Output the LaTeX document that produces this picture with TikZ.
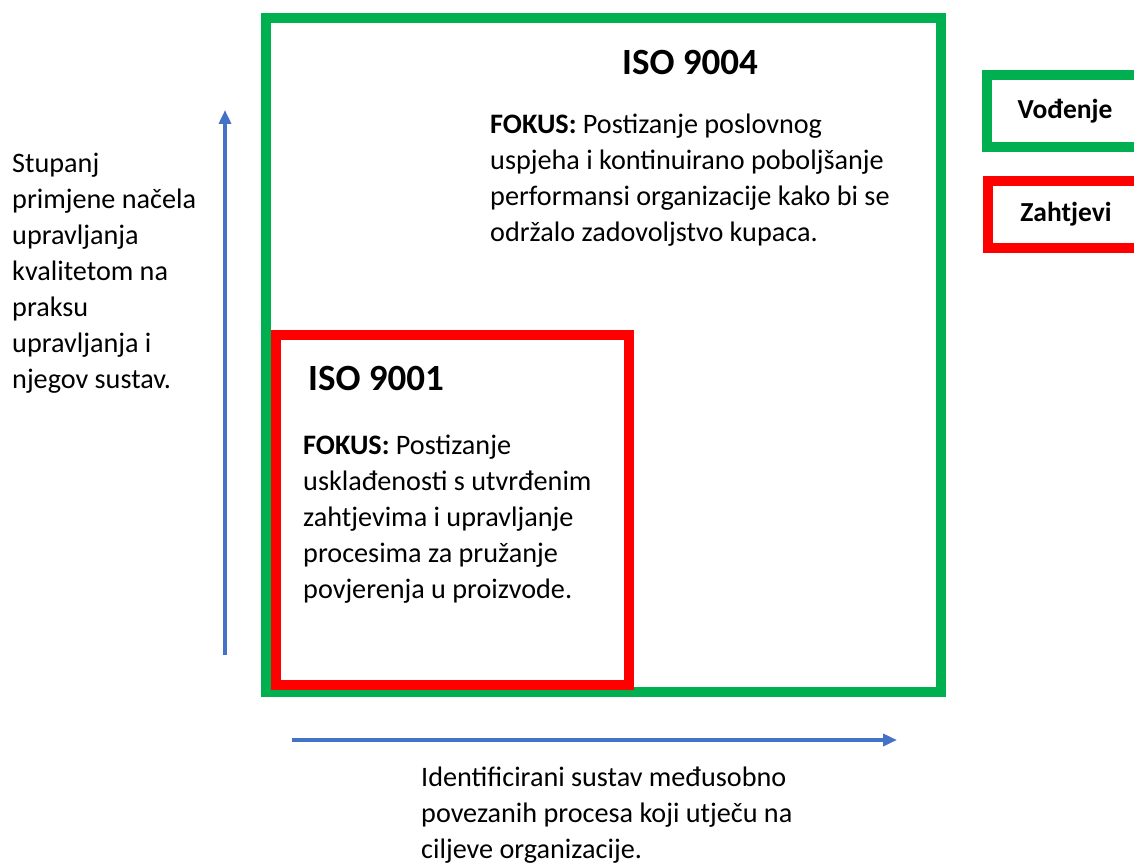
\documentclass[tikz,border=0pt]{standalone}
\usepackage{fontspec}
\setmainfont{Carlito}
\usetikzlibrary{arrows.meta}
\definecolor{isogreen}{RGB}{0,176,80}
\definecolor{isored}{RGB}{255,0,0}
\definecolor{axisblue}{RGB}{68,114,196}
\tikzset{
  greenbox/.style={draw=isogreen, line width=10pt, rectangle, inner sep=0pt},
  redbox/.style={draw=isored, line width=10pt, rectangle, inner sep=0pt},
  axisarrow/.style={draw=axisblue, line width=3.5pt, -{Triangle[length=14pt,width=12pt]}},
  bodytext/.style={anchor=base west, inner sep=0pt, align=left, font=\fontsize{28.2}{36}\selectfont},
  isotitle/.style={anchor=base west, inner sep=0pt, font=\fontsize{37}{44}\selectfont\bfseries},
  tagtext/.style={font=\fontsize{27.5}{36}\selectfont\bfseries},
}
\begin{document}
\begin{tikzpicture}[x=1pt,y=-1pt]
%%%%%%%%%%%%%%%%%%%%%%%%%%%%%%%%%%%%%%%%%%% FRAME
\useasboundingbox (0,0) rectangle (1134,864);
\clip (0,0) rectangle (1134,864);
%\draw[help lines, step=50] (0,0) grid (1134,864);

%%%%%%%%%%%%%%%%%%%%%%%%%%%%%%%%%%%%%%%%%%% boxes
\node[greenbox, minimum width=675, minimum height=674] (iso9004) at (603.5,355){};
\node[redbox, minimum width=353, minimum height=350] (iso9001) at (452.5,510){};
\node[greenbox, minimum width=156, minimum height=72, tagtext] (vodenje) at (1065,111){Vođenje};
\node[redbox, minimum width=156, minimum height=67, tagtext] (zahtjevi) at (1066,214.5){Zahtjevi};

%%%%%%%%%%%%%%%%%%%%%%%%%%%%%%%%%%%%%%%%%%% axes
\coordinate (ybot) at (225,655);
\coordinate (ytop) at (225,110);
\coordinate (xleft) at (292,740);
\coordinate (xright) at (897,740);
\draw[axisarrow] (ybot) -- (ytop);
\draw[axisarrow] (xleft) -- (xright);

%%%%%%%%%%%%%%%%%%%%%%%%%%%%%%%%%%%%%%%%%%% texts (anchored at last baseline)
\node[isotitle] (t9004) at (622,75){ISO 9004};
\node[bodytext] (f9004) at (490,241){\textbf{FOKUS:} Postizanje poslovnog\\uspjeha i kontinuirano poboljšanje\\performansi organizacije kako bi se\\održalo zadovoljstvo kupaca.};
\node[isotitle] (t9001) at (308,390){ISO 9001};
\node[bodytext] (f9001) at (303,598){\textbf{FOKUS:} Postizanje\\usklađenosti s utvrđenim\\zahtjevima i upravljanje\\procesima za pružanje\\povjerenja u proizvode.};
\node[bodytext] (ylabel) at (12,388){Stupanj\\primjene načela\\upravljanja\\kvalitetom na\\praksu\\upravljanja i\\njegov sustav.};
\node[bodytext] (xlabel) at (421,858){Identificirani sustav međusobno\\povezanih procesa koji utječu na\\ciljeve organizacije.};

\end{tikzpicture}
\end{document}
